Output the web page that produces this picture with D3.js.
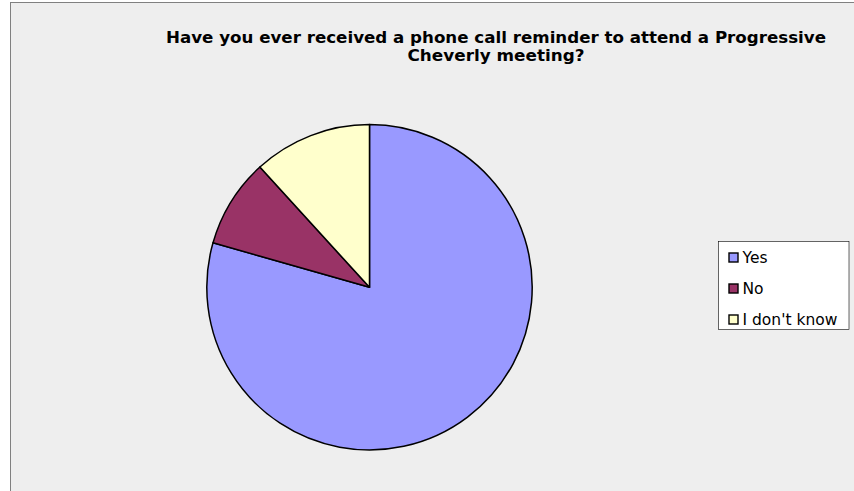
<!DOCTYPE html>
<html><head><meta charset="utf-8">
<script src="https://cdn.jsdelivr.net/npm/d3@7"></script>
<style>body{margin:0;background:#fff}svg{display:block}</style>
</head><body>
<script>
const categories = ["Yes", "No", "I don't know"];
const values = [27, 3, 4];
const colors = ["#9999FF", "#993366", "#FFFFCC"];
const titleLines = ["Have you ever received a phone call reminder to attend a Progressive", "Cheverly meeting?"];

const W = 854, H = 491;
const FONT = "'DejaVu Sans', Verdana, sans-serif";
const svg = d3.select("body").append("svg").attr("width", W).attr("height", H);
svg.append("rect").attr("x", 10.5).attr("y", 2.5).attr("width", 860).attr("height", 500)
  .attr("fill", "#EEEEEE").attr("stroke", "#808080").attr("stroke-width", 1);

const titleW = [660, 177];
const title = svg.append("g").attr("font-family", FONT).attr("font-weight", "bold")
  .attr("font-size", 16.3).attr("fill", "#000").attr("text-anchor", "middle");
titleLines.forEach((t, i) => title.append("text").attr("x", 496).attr("y", 43 + i * 18)
  .attr("textLength", titleW[i]).attr("lengthAdjust", "spacingAndGlyphs").text(t));

const cx = 369.5, cy = 287.3, r = 162.7;
const pie = d3.pie().sort(null).value(d => d)(values);
const arc = d3.arc().innerRadius(0).outerRadius(r);
svg.append("g").attr("transform", `translate(${cx},${cy})`)
  .selectAll("path").data(pie).join("path")
  .attr("d", arc).attr("fill", (d, i) => colors[i])
  .attr("stroke", "#000").attr("stroke-width", 1.5).attr("stroke-linejoin", "round");

const lg = svg.append("g");
lg.append("rect").attr("x", 718.5).attr("y", 241.5).attr("width", 130.5).attr("height", 88)
  .attr("fill", "#FFFFFF").attr("stroke", "#000").attr("stroke-width", 0.6);
const texts = [];
categories.forEach((c, i) => {
  const y = 257.5 + i * 31;
  lg.append("rect").attr("x", 729).attr("y", y - 4.5).attr("width", 9).attr("height", 9)
    .attr("fill", colors[i]).attr("stroke", "#000").attr("stroke-width", 1.4);
  texts.push(lg.append("text").attr("x", 742.5).attr("y", y + 5.5).attr("font-family", FONT)
    .attr("font-size", 14).attr("fill", "#000").text(c));
});
const lw = texts[2].node().getComputedTextLength();
texts.forEach(t => t.attr("font-size", 14 * 95 / lw));
</script>
</body></html>
